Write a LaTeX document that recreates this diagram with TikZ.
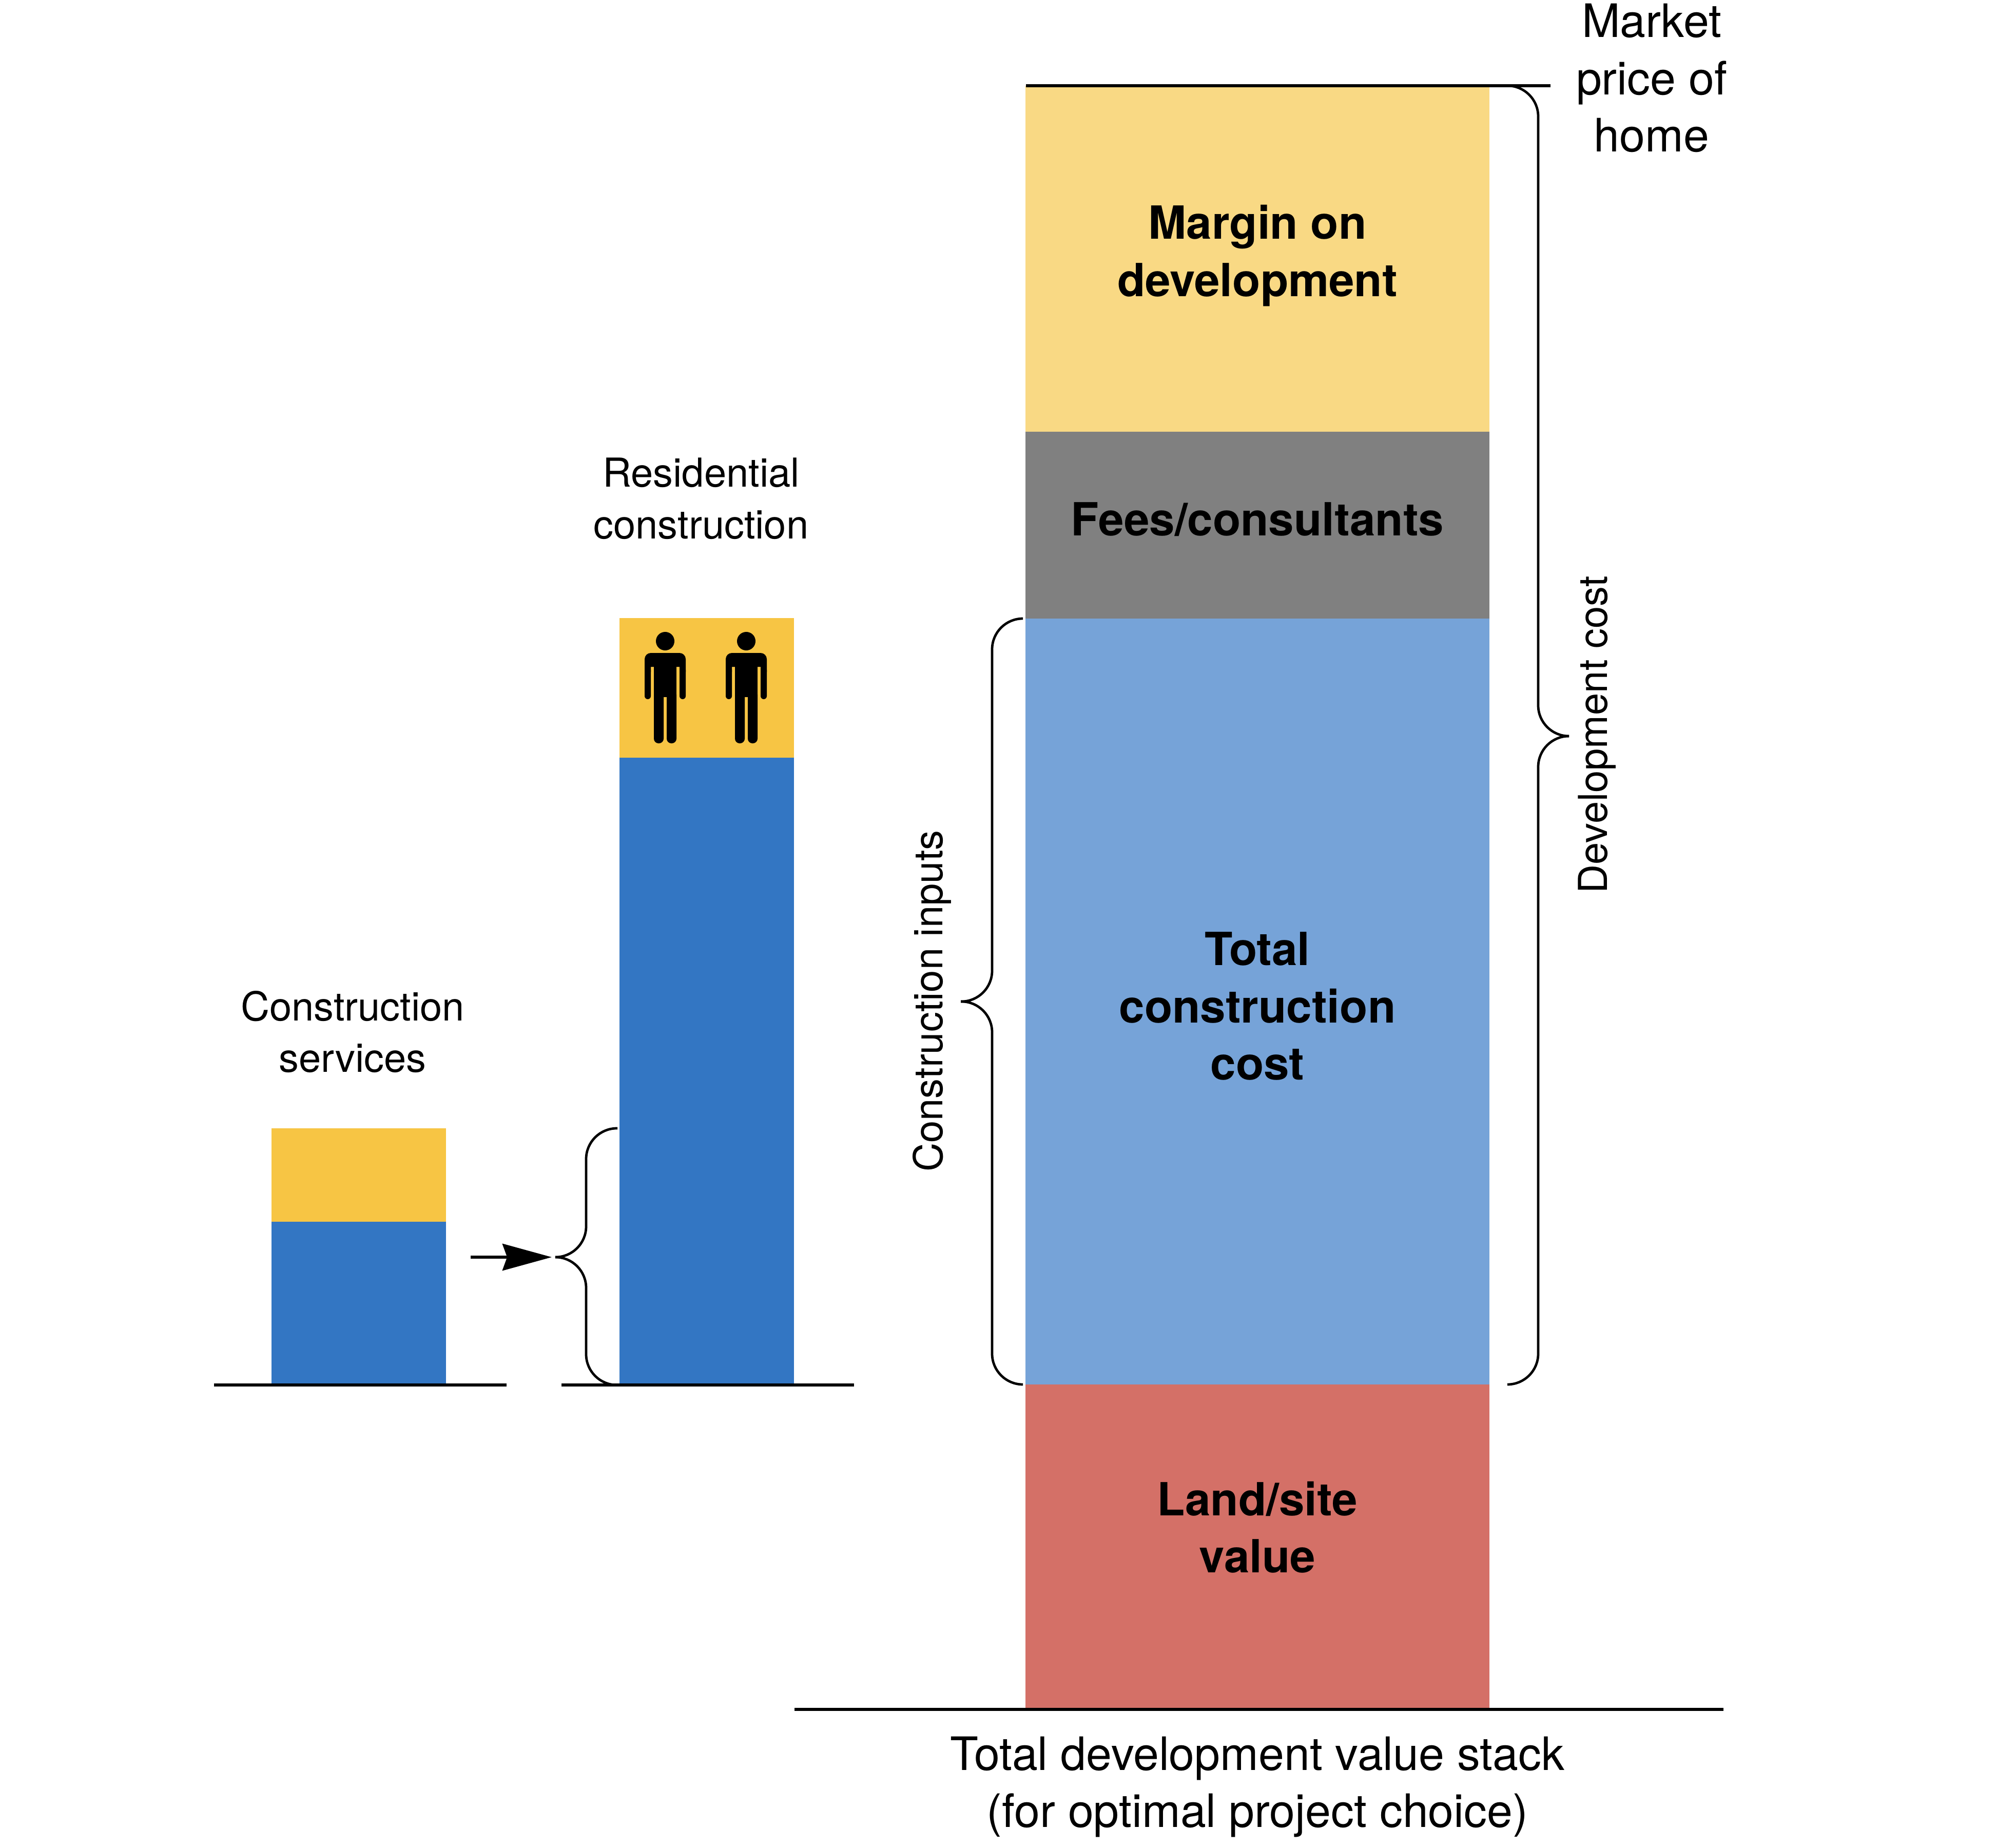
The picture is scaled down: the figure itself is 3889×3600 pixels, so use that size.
\documentclass[tikz,border=0pt]{standalone}
\usepackage{fontspec}
\setmainfont{TeX Gyre Heros}
\usetikzlibrary{arrows.meta, positioning, calc}
\definecolor{marginyellow}{HTML}{F9D984}
\definecolor{feegrey}{HTML}{808080}
\definecolor{costblue}{HTML}{76A3D8}
\definecolor{landred}{HTML}{D47067}
\definecolor{inputblue}{HTML}{3376C3}
\definecolor{laborgold}{HTML}{F7C544}
\tikzset{
  rule/.style={draw=black, line width=1.6pt},
  curlybrace/.style={draw=black, line width=1.35pt, rounded corners=0.6cm},
  smalllabel/.style={align=center, font=\fontsize{22.1}{28.6}\selectfont},
  biglabel/.style={align=center, font=\fontsize{25.5}{31.6}\selectfont},
  stacklabel/.style={align=center, font=\fontsize{25.3}{31.6}\selectfont\bfseries},
  person/.pic={
    \fill (0,0) circle[radius=0.18cm];
    \fill (-40,60) [rounded corners=0.12cm] -- (-40,23) -- (40,23) [sharp corners] -- (40,60) -- (28,60) -- (28,50) -- (-28,50) -- (-28,60) -- cycle;
    \fill[rounded corners=0.06cm] (-40,50) rectangle (-28,113);
    \fill[rounded corners=0.06cm] (28,50) rectangle (40,113);
    \fill (-22,50) rectangle (22,109);
    \fill[rounded corners=0.09cm] (-22,95) rectangle (-3,199);
    \fill[rounded corners=0.09cm] (3,95) rectangle (22,199);
  }
}
\begin{document}
\begin{tikzpicture}[x=0.01cm, y=-0.01cm]
\useasboundingbox (0,0) rectangle (3889,3600);
\fill[laborgold] (529,2198) rectangle (869,2380);
\fill[inputblue] (529,2380) rectangle (869,2698);
\fill[laborgold] (1207,1204) rectangle (1547,1476);
\fill[inputblue] (1207,1476) rectangle (1547,2698);
\fill[marginyellow] (1998,167) rectangle (2902,841);
\fill[feegrey] (1998,841) rectangle (2902,1205);
\fill[costblue] (1998,1205) rectangle (2902,2697);
\fill[landred] (1998,2697) rectangle (2902,3329);
\foreach \px in {1296,1454} \pic at (\px,1249) {person};
\draw[rule] (417,2698) -- (987,2698) (1094,2698) -- (1664,2698);
\draw[rule] (1548,3330) -- (3358,3330);
\draw[rule] (1999,167) -- (3021,167);
\draw[curlybrace] (1203,2198) -| (1142,2449) -- (1082,2449);
\draw[curlybrace] (1203,2698) -| (1142,2449) -- (1082,2449);
\draw[curlybrace] (1992,1205) -| (1933,1951) -- (1872,1951);
\draw[curlybrace] (1992,2697) -| (1933,1951) -- (1872,1951);
\draw[curlybrace] (2937,167) -| (2997,1434) -- (3057,1434);
\draw[curlybrace] (2937,2697) -| (2997,1434) -- (3057,1434);
\coordinate (arrowstart) at (917,2449);
\coordinate (arrowend) at (1075,2449);
\draw[rule, -{Stealth[length=27.3pt, width=14.8pt, inset=2.6pt]}] (arrowstart) -- (arrowend);
\node[smalllabel] (services) at (687,2010) {Construction\\services};
\node[smalllabel] (residential) at (1366,971) {Residential\\construction};
\node[smalllabel, rotate=90] (inputs) at (1816,1950) {Construction inputs};
\node[smalllabel, rotate=90] (devcost) at (3112,1431) {Development cost};
\node[biglabel] (market) at (3218,152) {Market\\price of\\home};
\node[biglabel] (total) at (2450,3481) {Total development value stack\\(for optimal project choice)};
\node[stacklabel] (margin) at (2450,498) {Margin on\\development};
\node[stacklabel] (fees) at (2450,1012) {Fees/consultants};
\node[stacklabel] (construction) at (2450,1960) {Total\\construction\\cost};
\node[stacklabel] (land) at (2450,2975) {Land/site\\value};
\end{tikzpicture}
\end{document}
